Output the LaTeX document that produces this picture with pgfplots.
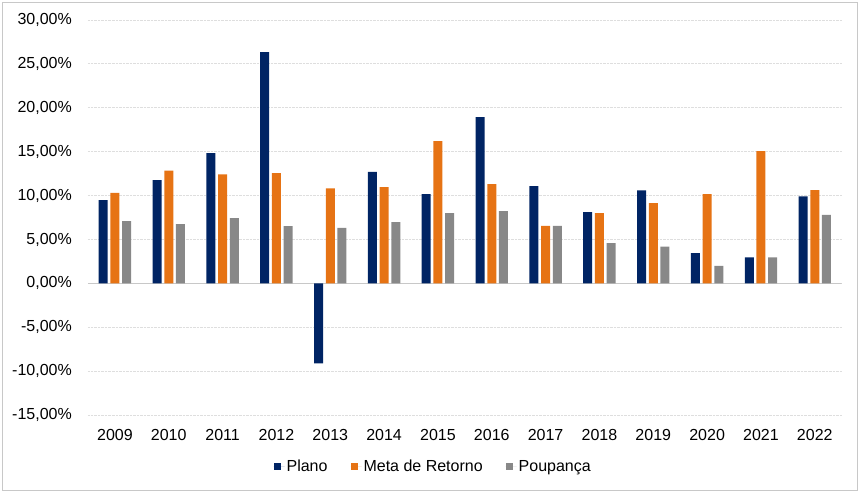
\documentclass[border=0pt]{standalone}
\usepackage{pgfplots}
\pgfplotsset{compat=1.18}
\usepackage{fontspec}
\setmainfont{Liberation Sans}
\definecolor{plano}{RGB}{0,36,100}
\definecolor{meta}{RGB}{230,115,20}
\definecolor{poup}{RGB}{136,136,136}
\definecolor{gridgrey}{RGB}{222,222,222}
\definecolor{framegrey}{RGB}{200,200,200}

\begin{document}
\fontsize{16bp}{19bp}\selectfont
\begin{tikzpicture}
\begin{axis}[
  scale only axis,
  width=753.7bp, height=395bp,
  ybar=2.7bp, bar width=9bp,
  xmin=-0.5, xmax=13.5,
  ymin=-15, ymax=30,
  xtick={0,...,13},
  xticklabels={2009,2010,2011,2012,2013,2014,2015,2016,2017,2018,2019,2020,2021,2022},
  ytick={-15,-10,...,30},
  yticklabels={{-15,00\%},{-10,00\%},{-5,00\%},{0,00\%},{5,00\%},{10,00\%},{15,00\%},{20,00\%},{25,00\%},{30,00\%}},
  axis line style={draw=none},
  major tick length=0pt,
  ymajorgrids,
  major grid style={gridgrey, densely dotted, line width=0.8bp},
  tick label style={font=\fontsize{16bp}{19bp}\selectfont, inner sep=0pt},
  yticklabel style={anchor=east, xshift=-16bp},
  xticklabel style={anchor=north, yshift=-14bp},
  legend columns=3,
  legend style={at={(axis description cs:0.458,-0.1316)}, anchor=center, draw=none,
    font=\fontsize{16bp}{19bp}\selectfont,
    /tikz/every even column/.append style={column sep=21bp}},
  legend image code/.code={\fill[#1] (0bp,-3.5bp) rectangle (7bp,3.5bp); \path (0bp,0bp) -- (11bp,0bp);},
]
\draw[framegrey, line width=1bp] (axis cs:-0.5,0) -- (axis cs:13.5,0);
\addplot[fill=plano, draw=none] coordinates {
(0,9.49) (1,11.77) (2,14.84) (3,26.34) (4,-9.11) (5,12.71) (6,10.17)
(7,18.94) (8,11.08) (9,8.12) (10,10.59) (11,3.45) (12,2.96) (13,9.91)};
\addplot[fill=meta, draw=none] coordinates {
(0,10.3) (1,12.83) (2,12.41) (3,12.56) (4,10.82) (5,10.97) (6,16.2)
(7,11.31) (8,6.56) (9,8.0) (10,9.14) (11,10.17) (12,15.07) (13,10.63)};
\addplot[fill=poup, draw=none] coordinates {
(0,7.1) (1,6.75) (2,7.44) (3,6.53) (4,6.33) (5,6.98) (6,8.0)
(7,8.23) (8,6.56) (9,4.59) (10,4.17) (11,2.0) (12,2.96) (13,7.81)};
\legend{Plano, Meta de Retorno, Poupança}
\end{axis}
\pgfresetboundingbox
\draw[framegrey, line width=1bp] (-85.5bp,-75.5bp) rectangle (769.5bp,412bp);
\useasboundingbox (-88bp,-78bp) rectangle (772bp,415bp);
\end{tikzpicture}
\end{document}
